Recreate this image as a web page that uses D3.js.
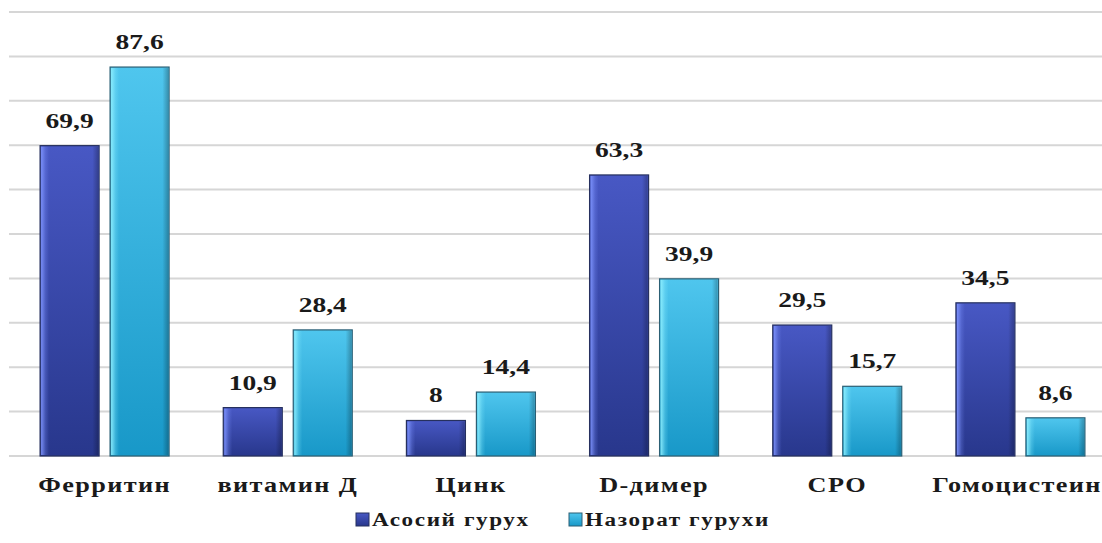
<!DOCTYPE html>
<html>
<head>
<meta charset="utf-8">
<script src="https://cdn.jsdelivr.net/npm/d3@7"></script>
<style>
  html, body { margin: 0; padding: 0; background: #ffffff; }
  svg { display: block; }
  svg text { font-family: "Liberation Serif", "DejaVu Serif", serif; font-weight: 700; }
</style>
</head>
<body>
<svg id="chart" width="1102" height="543"></svg>
<script>
// Categories and values for the two groups
const categories = ["Ферритин", "витамин Д", "Цинк", "D-димер", "СРО", "Гомоцистеин"];
const seriesNames = ["Асосий гурух", "Назорат гурухи"];
const mainGroup = [69.9, 10.9, 8, 63.3, 29.5, 34.5];
const controlGroup = [87.6, 28.4, 14.4, 39.9, 15.7, 8.6];
const yTicks = [0, 10, 20, 30, 40, 50, 60, 70, 80, 90, 100];

const seriesValues = [mainGroup, controlGroup];

const W = 1102, H = 543;
const svg = d3.select("#chart");

const plot = { left: 13, right: 1112, top: 12, bottom: 456 };

const x0 = d3.scaleBand().domain(categories).range([plot.left, plot.right]).padding(0);
const x1 = d3.scaleBand().domain(seriesNames).range([0, x0.bandwidth()])
  .paddingInner(0.157).paddingOuter(0.387);
const y = d3.scaleLinear().domain([0, 100]).range([plot.bottom, plot.top]);

// Gradients for the bevelled bars
const defs = svg.append("defs");
const palettes = [
  { id: "g0", top: "#4858c4", bottom: "#28378c", hi: "#7f95ff", edge: "#26305e" },
  { id: "g1", top: "#4fc6ee", bottom: "#1898c8", hi: "#8ff0ff", edge: "#2b5f74" }
];
palettes.forEach(p => {
  const g = defs.append("linearGradient").attr("id", p.id)
    .attr("x1", 0).attr("y1", 0).attr("x2", 0).attr("y2", 1);
  g.append("stop").attr("offset", "0%").attr("stop-color", p.top);
  g.append("stop").attr("offset", "100%").attr("stop-color", p.bottom);
  const h = defs.append("linearGradient").attr("id", p.id + "h")
    .attr("x1", 0).attr("y1", 0).attr("x2", 1).attr("y2", 0);
  h.append("stop").attr("offset", "0%").attr("stop-color", p.hi).attr("stop-opacity", 0.9);
  h.append("stop").attr("offset", "8%").attr("stop-color", p.hi).attr("stop-opacity", 0.25);
  h.append("stop").attr("offset", "14%").attr("stop-color", p.hi).attr("stop-opacity", 0);
  h.append("stop").attr("offset", "90%").attr("stop-color", "#000").attr("stop-opacity", 0);
  h.append("stop").attr("offset", "100%").attr("stop-color", "#000").attr("stop-opacity", 0.25);
});

// Horizontal gridlines
svg.append("g").selectAll("line").data(yTicks).join("line")
  .attr("x1", 9).attr("x2", W)
  .attr("y1", d => y(d)).attr("y2", d => y(d))
  .attr("stroke", "#d6d6d6").attr("stroke-width", 2);

// Bars
const groups = svg.append("g").selectAll("g").data(categories).join("g")
  .attr("transform", d => `translate(${x0(d)},0)`);

const barData = (c, ci) => seriesNames.map((s, si) => ({ s, si, v: seriesValues[si][ci] }));

groups.each(function (c, ci) {
  const g = d3.select(this);
  const bars = barData(c, ci);
  g.selectAll("rect.bar").data(bars).join("rect").attr("class", "bar")
    .attr("x", d => x1(d.s)).attr("width", x1.bandwidth())
    .attr("y", d => y(d.v)).attr("height", d => y(0) - y(d.v))
    .attr("fill", d => `url(#${palettes[d.si].id})`)
    .attr("stroke", d => palettes[d.si].edge).attr("stroke-width", 1.2);
  g.selectAll("rect.shine").data(bars).join("rect").attr("class", "shine")
    .attr("x", d => x1(d.s) + 1).attr("width", x1.bandwidth() - 2)
    .attr("y", d => y(d.v) + 1).attr("height", d => y(0) - y(d.v) - 2)
    .attr("fill", d => `url(#${palettes[d.si].id}h)`);
  g.selectAll("text.val").data(bars).join("text").attr("class", "val")
    .attr("text-anchor", "middle")
    .attr("fill", "#1a1a1a")
    .style("font-size", "22px")
    .attr("transform", d => `translate(${x1(d.s) + x1.bandwidth() / 2},${y(d.v) - 18}) scale(1.25,1)`)
    .text(d => String(d.v).replace(".", ","));
});

// Category labels
svg.append("g").selectAll("text").data(categories).join("text")
  .attr("text-anchor", "middle")
  .attr("fill", "#1a1a1a")
  .style("font-size", "21px")
  .style("letter-spacing", "1.1px")
  .attr("transform", d => `translate(${Math.min(x0(d) + x0.bandwidth() / 2, 1017)},492) scale(1.25,1)`)
  .text(d => d);

// Legend
const legendItems = [
  { name: seriesNames[0], x: 356, p: palettes[0] },
  { name: seriesNames[1], x: 569, p: palettes[1] }
];
const lg = svg.append("g").selectAll("g").data(legendItems).join("g")
  .attr("transform", d => `translate(${d.x},513)`);
lg.append("rect").attr("width", 13).attr("height", 13)
  .attr("fill", d => `url(#${d.p.id})`).attr("stroke", d => d.p.edge).attr("stroke-width", 1);
lg.append("text")
  .style("font-size", "19px").style("letter-spacing", "1.3px")
  .attr("fill", "#1a1a1a")
  .attr("transform", "translate(16,13) scale(1.22,1)")
  .text(d => d.name);
</script>
</body>
</html>
